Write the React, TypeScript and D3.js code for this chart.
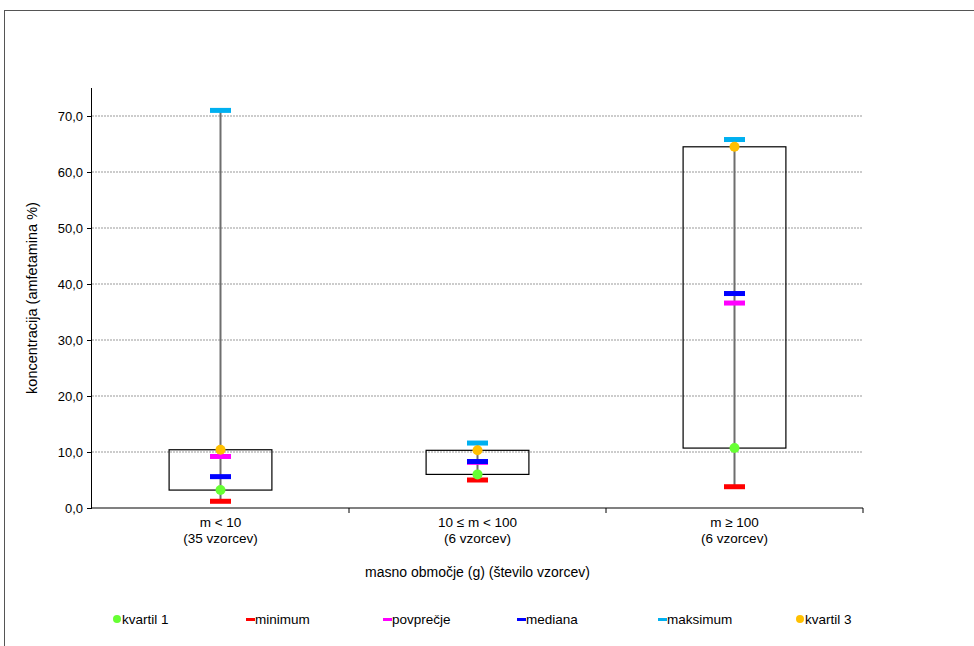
import { useEffect, useRef } from "react";
import * as d3 from "d3";

// kategorije (masno območje) in število vzorcev
const categories = ["m < 10", "10 ≤ m < 100", "m ≥ 100"];
const sampleLabels = ["(35 vzorcev)", "(6 vzorcev)", "(6 vzorcev)"];

// statistike za vsako kategorijo
const minimum = [1.2, 5.0, 3.8];
const kvartil1 = [3.2, 6.0, 10.7];
const mediana = [5.6, 8.3, 38.3];
const povprecje = [9.2, 8.15, 36.6];
const kvartil3 = [10.4, 10.3, 64.5];
const maksimum = [71.0, 11.6, 65.8];

const yTicks = [0, 10, 20, 30, 40, 50, 60, 70];

const legendItems = [
  { name: "kvartil 1", color: "#66FF33", shape: "dot" },
  { name: "minimum", color: "#FF0000", shape: "dash" },
  { name: "povprečje", color: "#FF00FF", shape: "dash" },
  { name: "mediana", color: "#0000FF", shape: "dash" },
  { name: "maksimum", color: "#00B0F0", shape: "dash" },
  { name: "kvartil 3", color: "#FFC000", shape: "dot" },
];

export default function App() {
  const ref = useRef<SVGSVGElement>(null);

  useEffect(() => {
    const svg = d3.select(ref.current);
    svg.selectAll("*").remove();

    const margin = { top: 88, left: 92, right: 111, bottom: 138 };
    const W = 974, H = 646;
    const width = W - margin.left - margin.right;
    const height = H - margin.top - margin.bottom;
    const font = "'Liberation Sans', Arial, sans-serif";

    // okvir
    svg.append("rect")
      .attr("x", 4.5).attr("y", 10.5)
      .attr("width", 1000).attr("height", 700)
      .attr("fill", "white")
      .attr("stroke", "#555").attr("stroke-width", 1);

    const g = svg.append("g").attr("transform", `translate(${margin.left},${margin.top})`);

    const x = d3.scaleBand().domain(categories).range([0, width]);
    const y = d3.scaleLinear().domain([0, 75]).range([height, 0]);

    // mreža
    g.selectAll(".grid")
      .data(yTicks.filter(t => t > 0))
      .enter().append("line")
      .attr("x1", 0).attr("x2", width)
      .attr("y1", d => y(d)).attr("y2", d => y(d))
      .attr("stroke", "#999")
      .attr("stroke-dasharray", "2,1");

    // y os
    const yAxis = g.append("g")
      .call(d3.axisLeft(y).tickValues(yTicks).tickSize(5)
        .tickFormat(d => d3.format(".1f")(d as number).replace(".", ",")));
    yAxis.select(".domain").attr("stroke", "#000").attr("d", `M-0.5,0V${height}`);
    yAxis.selectAll("text").attr("font-family", font).attr("font-size", 13).attr("fill", "#000").attr("x", -9);

    // x os
    g.append("line")
      .attr("x1", 0).attr("x2", width)
      .attr("y1", height).attr("y2", height)
      .attr("stroke", "#808080").attr("stroke-width", 2);
    g.selectAll(".xtick")
      .data(categories)
      .enter().append("line")
      .attr("x1", d => x(d)! + x.bandwidth())
      .attr("x2", d => x(d)! + x.bandwidth())
      .attr("y1", height).attr("y2", height + 5)
      .attr("stroke", "#000");

    const cx = (i: number) => x(categories[i])! + x.bandwidth() / 2;

    categories.forEach((c, i) => {
      const t = g.append("text")
        .attr("x", cx(i)).attr("y", height + 19)
        .attr("text-anchor", "middle")
        .attr("font-family", font).attr("font-size", 13.5);
      t.append("tspan").attr("x", cx(i)).text(c);
      t.append("tspan").attr("x", cx(i)).attr("dy", 16).text(sampleLabels[i]);
    });

    const boxW = x.bandwidth() * 0.4;

    categories.forEach((c, i) => {
      // razpon
      g.append("line")
        .attr("x1", cx(i)).attr("x2", cx(i))
        .attr("y1", y(minimum[i])).attr("y2", y(maksimum[i]))
        .attr("stroke", "#6e6e6e").attr("stroke-width", 2);
      // škatla
      g.append("rect")
        .attr("x", cx(i) - boxW / 2)
        .attr("y", y(kvartil3[i]))
        .attr("width", boxW)
        .attr("height", y(kvartil1[i]) - y(kvartil3[i]))
        .attr("fill", "none")
        .attr("stroke", "#000").attr("stroke-width", 1.2);
    });

    const dash = (vals: number[], color: string) => {
      g.selectAll(null)
        .data(vals)
        .enter().append("rect")
        .attr("x", (_, i) => cx(i) - 10.5)
        .attr("y", d => y(d) - 2.5)
        .attr("width", 21).attr("height", 5)
        .attr("fill", color);
    };
    const dot = (vals: number[], color: string) => {
      g.selectAll(null)
        .data(vals)
        .enter().append("circle")
        .attr("cx", (_, i) => cx(i))
        .attr("cy", d => y(d))
        .attr("r", 5)
        .attr("fill", color);
    };
    dash(minimum, "#FF0000");
    dash(povprecje, "#FF00FF");
    dash(mediana, "#0000FF");
    dash(maksimum, "#00B0F0");
    dot(kvartil1, "#66FF33");
    dot(kvartil3, "#FFC000");

    // naslovi osi
    svg.append("text")
      .attr("transform", `translate(37,${margin.top + height / 2}) rotate(-90)`)
      .attr("text-anchor", "middle")
      .attr("font-family", font).attr("font-size", 14.5)
      .text("koncentracija (amfetamina %)");
    svg.append("text")
      .attr("x", margin.left + width / 2).attr("y", 577)
      .attr("text-anchor", "middle")
      .attr("font-family", font).attr("font-size", 14)
      .text("masno območje (g) (število vzorcev)");

    // legenda
    const lx = [117, 250, 387, 521, 662, 800];
    const ly = 619;
    legendItems.forEach((it, i) => {
      if (it.shape === "dot") {
        svg.append("circle").attr("cx", lx[i]).attr("cy", ly).attr("r", 4).attr("fill", it.color);
      } else {
        svg.append("rect").attr("x", lx[i] - 4).attr("y", ly - 1).attr("width", 9).attr("height", 3).attr("fill", it.color);
      }
      svg.append("text")
        .attr("x", lx[i] + 5).attr("y", ly + 5)
        .attr("font-family", font).attr("font-size", 13.5)
        .text(it.name);
    });
  }, []);

  return (
    <svg ref={ref} width={974} height={646}
      style={{ position: "absolute", left: 0, top: 0, display: "block" }} />
  );
}
